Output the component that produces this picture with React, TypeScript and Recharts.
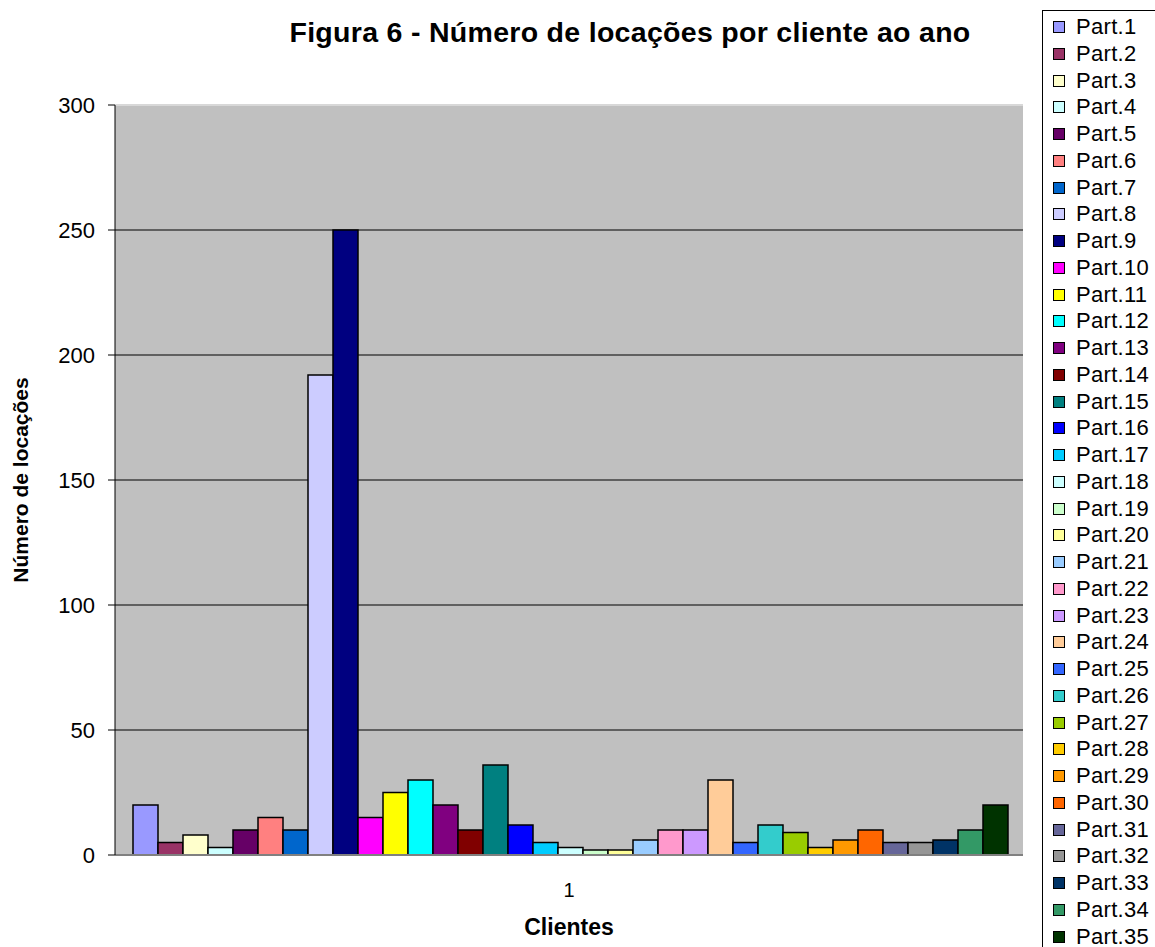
import React from 'react';
import { BarChart, Bar, XAxis, YAxis, CartesianGrid, Label, ReferenceLine } from 'recharts';

const categories: string[] = ['1'];
const seriesNames: string[] = Array.from({ length: 35 }, (_, i) => `Part.${i + 1}`);
const seriesValues: number[] = [
  20, 5, 8, 3, 10, 15, 10, 192, 250, 15,
  25, 30, 20, 10, 36, 12, 5, 3, 2, 2,
  6, 10, 10, 30, 5, 12, 9, 3, 6, 10,
  5, 5, 6, 10, 20,
];
const seriesColors: string[] = [
  '#9999FF', '#993366', '#FFFFCC', '#CCFFFF', '#660066', '#FF8080', '#0066CC', '#CCCCFF', '#000080', '#FF00FF',
  '#FFFF00', '#00FFFF', '#800080', '#800000', '#008080', '#0000FF', '#00CCFF', '#CCFFFF', '#CCFFCC', '#FFFF99',
  '#99CCFF', '#FF99CC', '#CC99FF', '#FFCC99', '#3366FF', '#33CCCC', '#99CC00', '#FFCC00', '#FF9900', '#FF6600',
  '#666699', '#969696', '#003366', '#339966', '#003300',
];
const yTicks: number[] = [0, 50, 100, 150, 200, 250, 300];
const gridValues: number[] = [50, 100, 150, 200, 250];

const titleText = 'Figura 6 - Número de locações por cliente ao ano';
const yAxisTitle = 'Número de locações';
const xAxisTitle = 'Clientes';

const data = categories.map((c) => {
  const row: Record<string, string | number> = { category: c };
  seriesNames.forEach((n, i) => {
    row[n] = seriesValues[i];
  });
  return row;
});

const FONT = '"Liberation Sans", Arial, sans-serif';

const XTick = (props: any) => {
  const { x, y, payload } = props;
  return (
    <text x={x} y={y} dy={34} textAnchor="middle" fontSize={20} fontFamily={FONT} fill="#000">
      {payload.value}
    </text>
  );
};

export default function App() {
  return (
    <div style={{ position: 'absolute', left: 0, top: 0, width: 1155, height: 947, background: '#fff', fontFamily: FONT }}>
      <div
        style={{
          position: 'absolute',
          left: 0,
          width: 1260,
          top: 16,
          textAlign: 'center',
          fontSize: 28.5,
          fontWeight: 'bold',
          letterSpacing: 0.3,
          lineHeight: '32px',
          color: '#000',
        }}
      >
        {titleText}
      </div>
      <BarChart
        width={1155}
        height={947}
        data={data}
        margin={{ top: 105, right: 132, bottom: 0, left: 0 }}
        barCategoryGap={18}
        barGap={0}
      >
        <CartesianGrid
          vertical={false}
          horizontalValues={gridValues}
          stroke="#000"
          strokeWidth={1}
          fill="#C0C0C0"
          fillOpacity={1}
        />
        <ReferenceLine y={300} stroke="#D8D8D8" strokeWidth={2} />
        <XAxis
          dataKey="category"
          height={92}
          tickLine={false}
          axisLine={{ stroke: '#808080', strokeWidth: 2 }}
          tick={<XTick />}
        >
          <Label
            value={xAxisTitle}
            position="insideBottom"
            offset={12}
            style={{ fontSize: 23, fontWeight: 'bold', fontFamily: FONT, fill: '#000' }}
          />
        </XAxis>
        <YAxis
          width={115}
          domain={[0, 300]}
          ticks={yTicks}
          interval={0}
          tickSize={7}
          tickMargin={13}
          tickLine={{ stroke: '#000' }}
          axisLine={{ stroke: '#000' }}
          tick={{ fontSize: 22, fontFamily: FONT, fill: '#000' }}
        >
          <Label
            value={yAxisTitle}
            angle={-90}
            position="insideLeft"
            offset={21}
            style={{ fontSize: 21, fontWeight: 'bold', fontFamily: FONT, fill: '#000', textAnchor: 'middle' }}
          />
        </YAxis>
        {seriesNames.map((n, i) => (
          <Bar
            key={n}
            dataKey={n}
            fill={seriesColors[i]}
            stroke="#000"
            strokeWidth={1.5}
            isAnimationActive={false}
          />
        ))}
      </BarChart>
      <div
        style={{
          position: 'absolute',
          left: 1042,
          top: 10,
          width: 120,
          height: 950,
          borderLeft: '1px solid #000',
          borderTop: '1px solid #000',
          boxSizing: 'border-box',
          background: '#fff',
        }}
      >
        {seriesNames.map((n, i) => (
          <div
            key={n}
            style={{
              position: 'absolute',
              left: 10,
              top: 3 + i * 26.75,
              height: 26,
              display: 'flex',
              alignItems: 'center',
              whiteSpace: 'nowrap',
            }}
          >
            <span
              style={{
                display: 'inline-block',
                width: 10,
                height: 10,
                border: '1px solid #000',
                background: seriesColors[i],
                marginRight: 11,
              }}
            />
            <span style={{ fontSize: 22, color: '#000', letterSpacing: 0.3 }}>{n}</span>
          </div>
        ))}
      </div>
    </div>
  );
}
